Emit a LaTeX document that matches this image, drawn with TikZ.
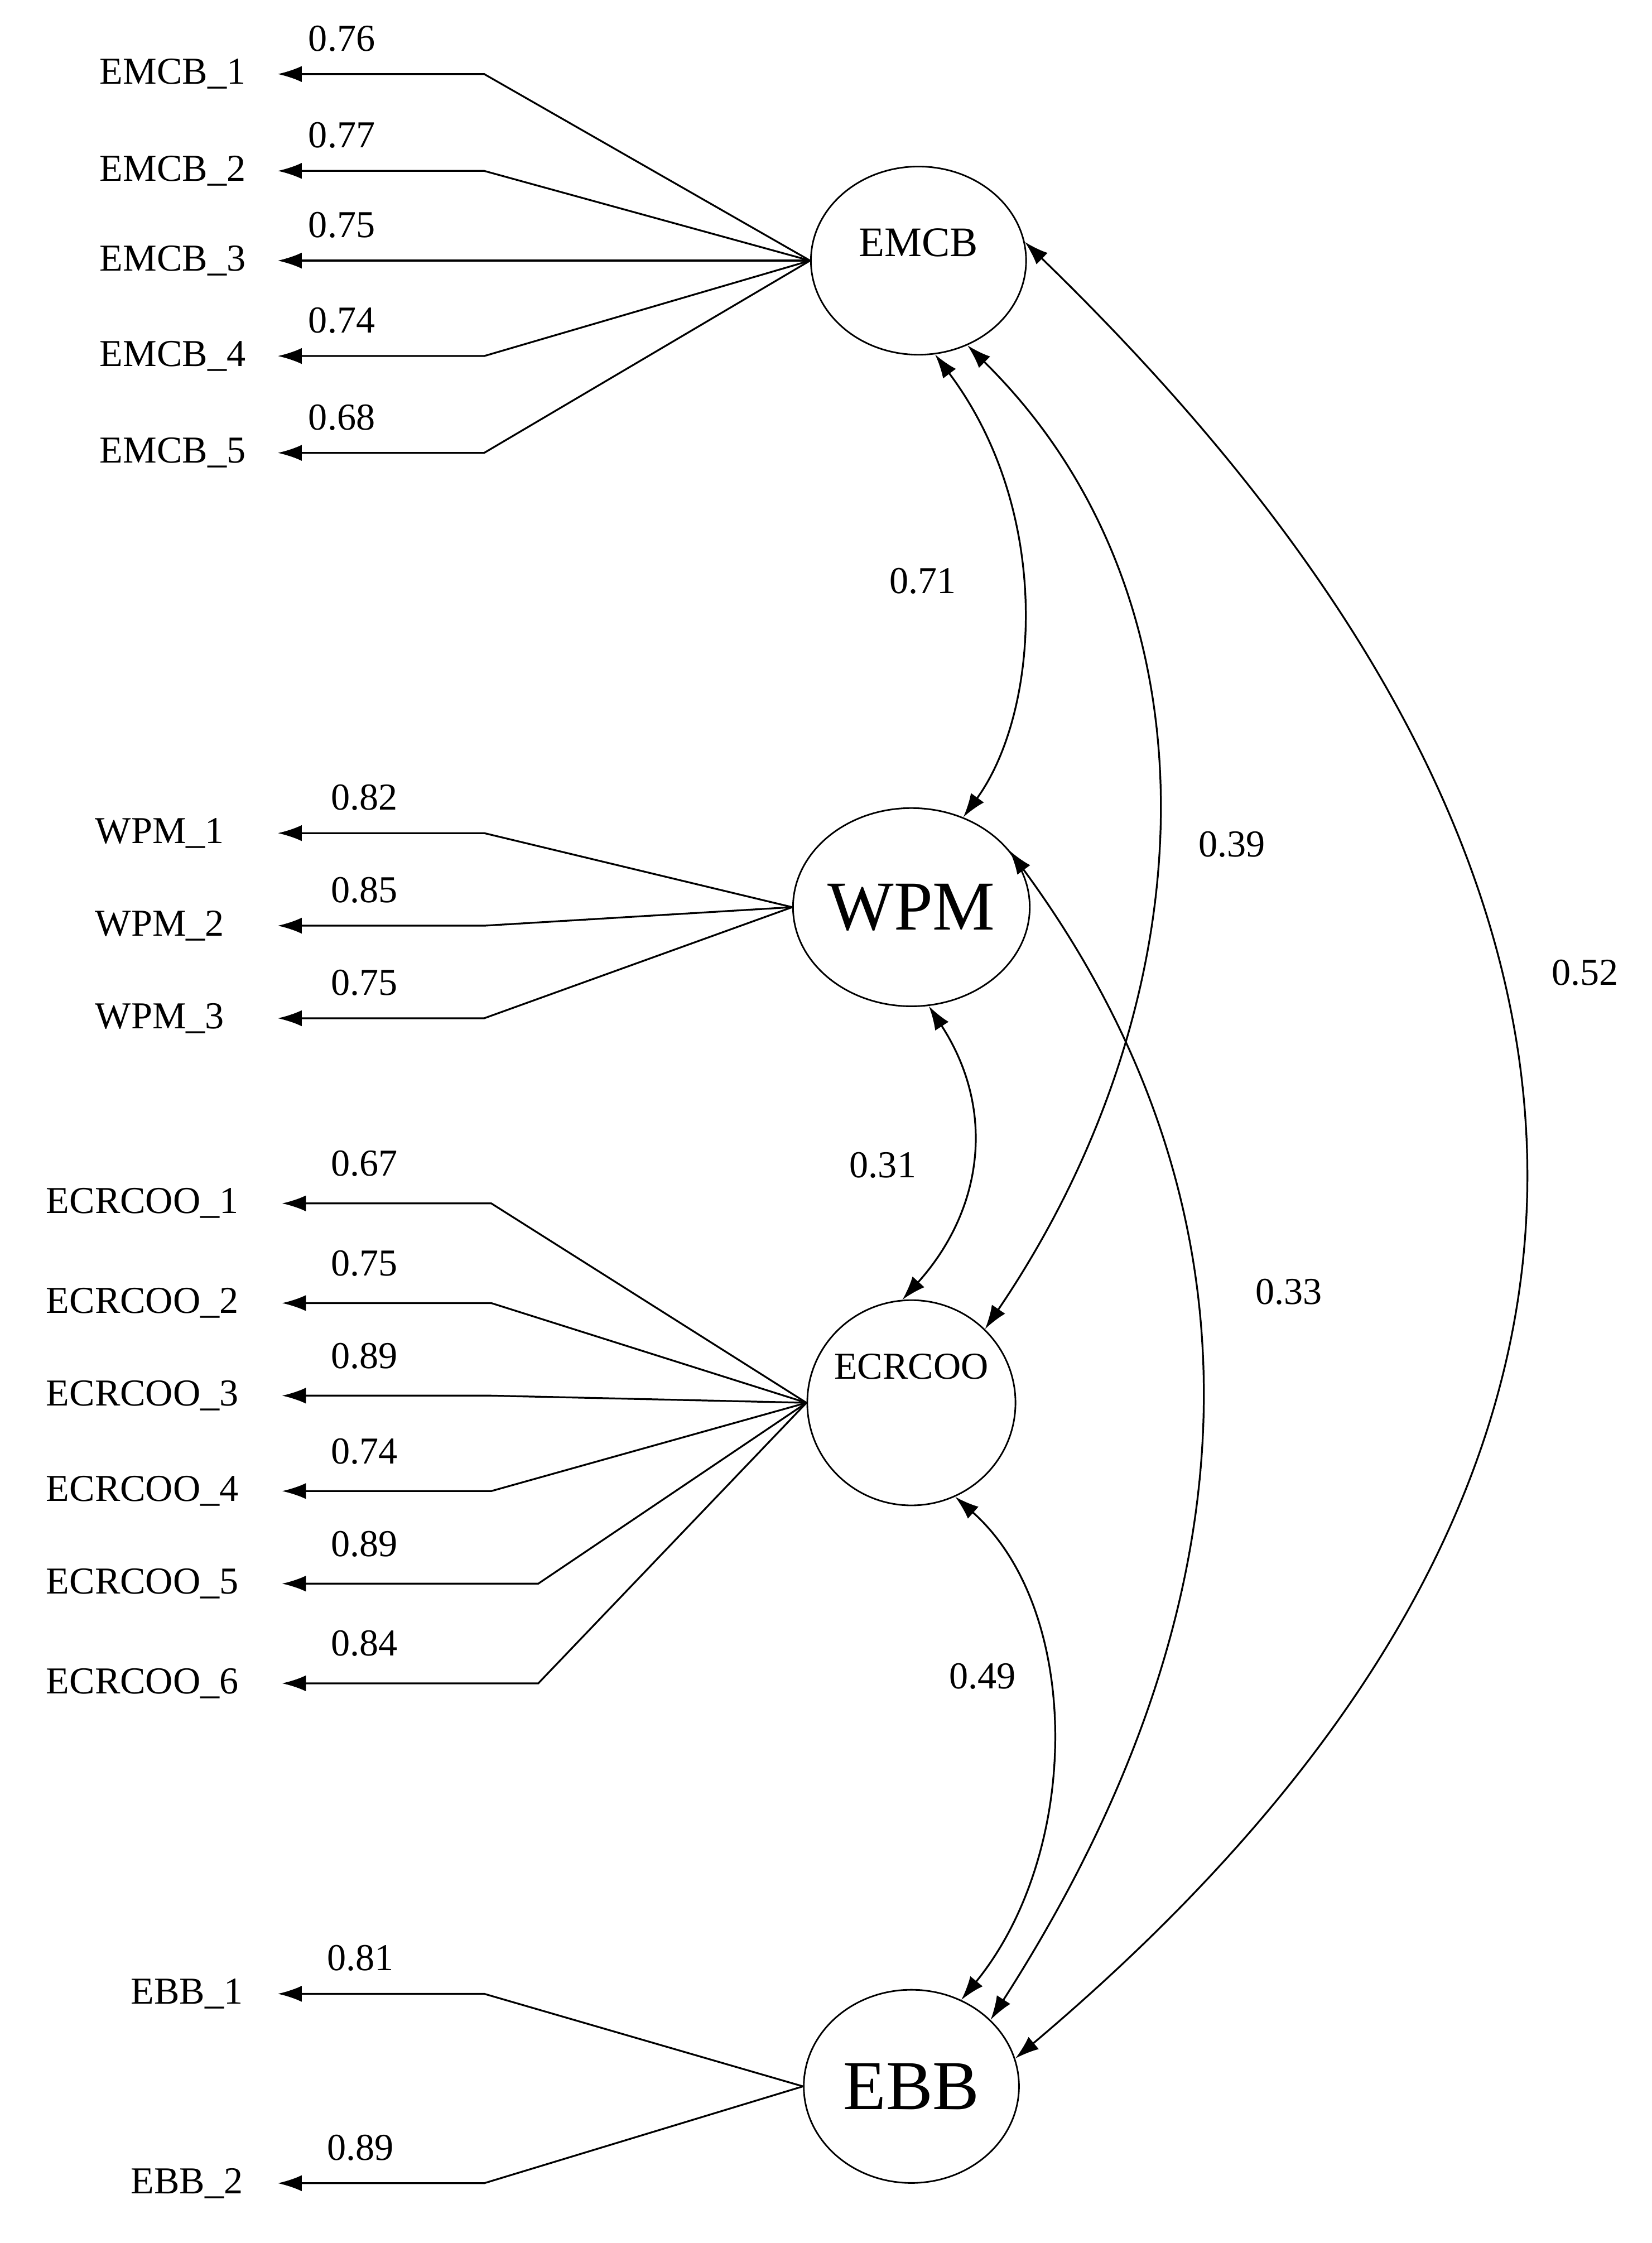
\documentclass[tikz,border=0pt]{standalone}
\usepackage{fontspec}
\setmainfont{Liberation Serif}
\usetikzlibrary{shapes.geometric,arrows.meta}
\tikzset{
	lat/.style={ellipse, draw, line width=1.6pt, minimum width=215pt, minimum height=188pt, inner sep=0},
	ind/.style={anchor=east, font=\fontsize{38}{42}\selectfont},
	val/.style={font=\fontsize{38}{42}\selectfont},
	ld/.style={-{Latex[length=24pt,width=16pt]}, line width=1.8pt},
	cv/.style={{Latex[length=24pt,width=16pt]}-{Latex[length=24pt,width=16pt]}, line width=1.8pt}
}
\begin{document}
\begin{tikzpicture}[x=0.05cm, y=-0.05cm]
\useasboundingbox (0,0) rectangle (1160,1575);
% latent factors
\node[lat] (emcb) at (645,183) {};
\node[font=\fontsize{42}{46}\selectfont] (emcbt) at (emcb.center) [yshift=18pt] {EMCB};
\node[lat, minimum height=198pt, font=\fontsize{70}{76}\selectfont] (wpm) at (640,637) {WPM};
\node[lat, minimum width=208pt, minimum height=205pt] (ecr) at (640,985) {};
\node[font=\fontsize{38}{42}\selectfont] (ecrt) at (ecr.center) [yshift=36pt] {ECRCOO};
\node[lat, minimum height=193pt, font=\fontsize{70}{76}\selectfont] (ebb) at (640,1465) {EBB};
% loadings
\foreach \i/\y/\v in {1/52/0.76, 2/120/0.77, 3/183/0.75, 4/250/0.74, 5/318/0.68} {
	\node[ind] (emcb\i) at (175,\y) {EMCB\_\i};
	\coordinate (ke\i) at (340,\y);
	\coordinate (te\i) at (195,\y);
	\draw[ld] (emcb.west) -- (ke\i) -- (te\i);
	\node[val] at (240,\y-25) {\v};
}
\foreach \i/\y/\v in {1/585/0.82, 2/650/0.85, 3/715/0.75} {
	\node[ind] (wpm\i) at (160,\y) {WPM\_\i};
	\coordinate (kw\i) at (340,\y);
	\coordinate (tw\i) at (195,\y);
	\draw[ld] (wpm.west) -- (kw\i) -- (tw\i);
	\node[val] at (256,\y-25) {\v};
}
\foreach \i/\y/\x/\v in {1/845/345/0.67, 2/915/345/0.75, 3/980/345/0.89, 4/1047/345/0.74, 5/1112/378/0.89, 6/1182/378/0.84} {
	\node[ind] (ecr\i) at (170,\y) {ECRCOO\_\i};
	\coordinate (kc\i) at (\x,\y);
	\coordinate (tc\i) at (198,\y);
	\draw[ld] (ecr.west) -- (kc\i) -- (tc\i);
	\node[val] at (256,\y-28) {\v};
}
\foreach \i/\y/\v in {1/1400/0.81, 2/1533/0.89} {
	\node[ind] (ebb\i) at (173,\y) {EBB\_\i};
	\coordinate (kb\i) at (340,\y);
	\coordinate (tb\i) at (195,\y);
	\draw[ld] (ebb.west) -- (kb\i) -- (tb\i);
	\node[val] at (253,\y-25) {\v};
}
% correlations
\draw[cv] (emcb.-80) .. controls (740,360) and (730,500) .. (wpm.60);
\draw[cv] (emcb.-60) .. controls (860,420) and (850,700) .. (ecr.45);
\draw[cv] (emcb.10) .. controls (1060,500) and (1300,950) .. (ebb.15);
\draw[cv] (wpm.-80) .. controls (700,780) and (690,850) .. (ecr.95);
\draw[cv] (wpm.30) .. controls (880,830) and (900,1100) .. (ebb.40);
\draw[cv] (ecr.-65) .. controls (760,1130) and (760,1300) .. (ebb.60);
\node[val] at (648,408) {0.71};
\node[val] at (865,593) {0.39};
\node[val] at (1113,683) {0.52};
\node[val] at (620,818) {0.31};
\node[val] at (905,907) {0.33};
\node[val] at (690,1177) {0.49};
\end{tikzpicture}
\end{document}
